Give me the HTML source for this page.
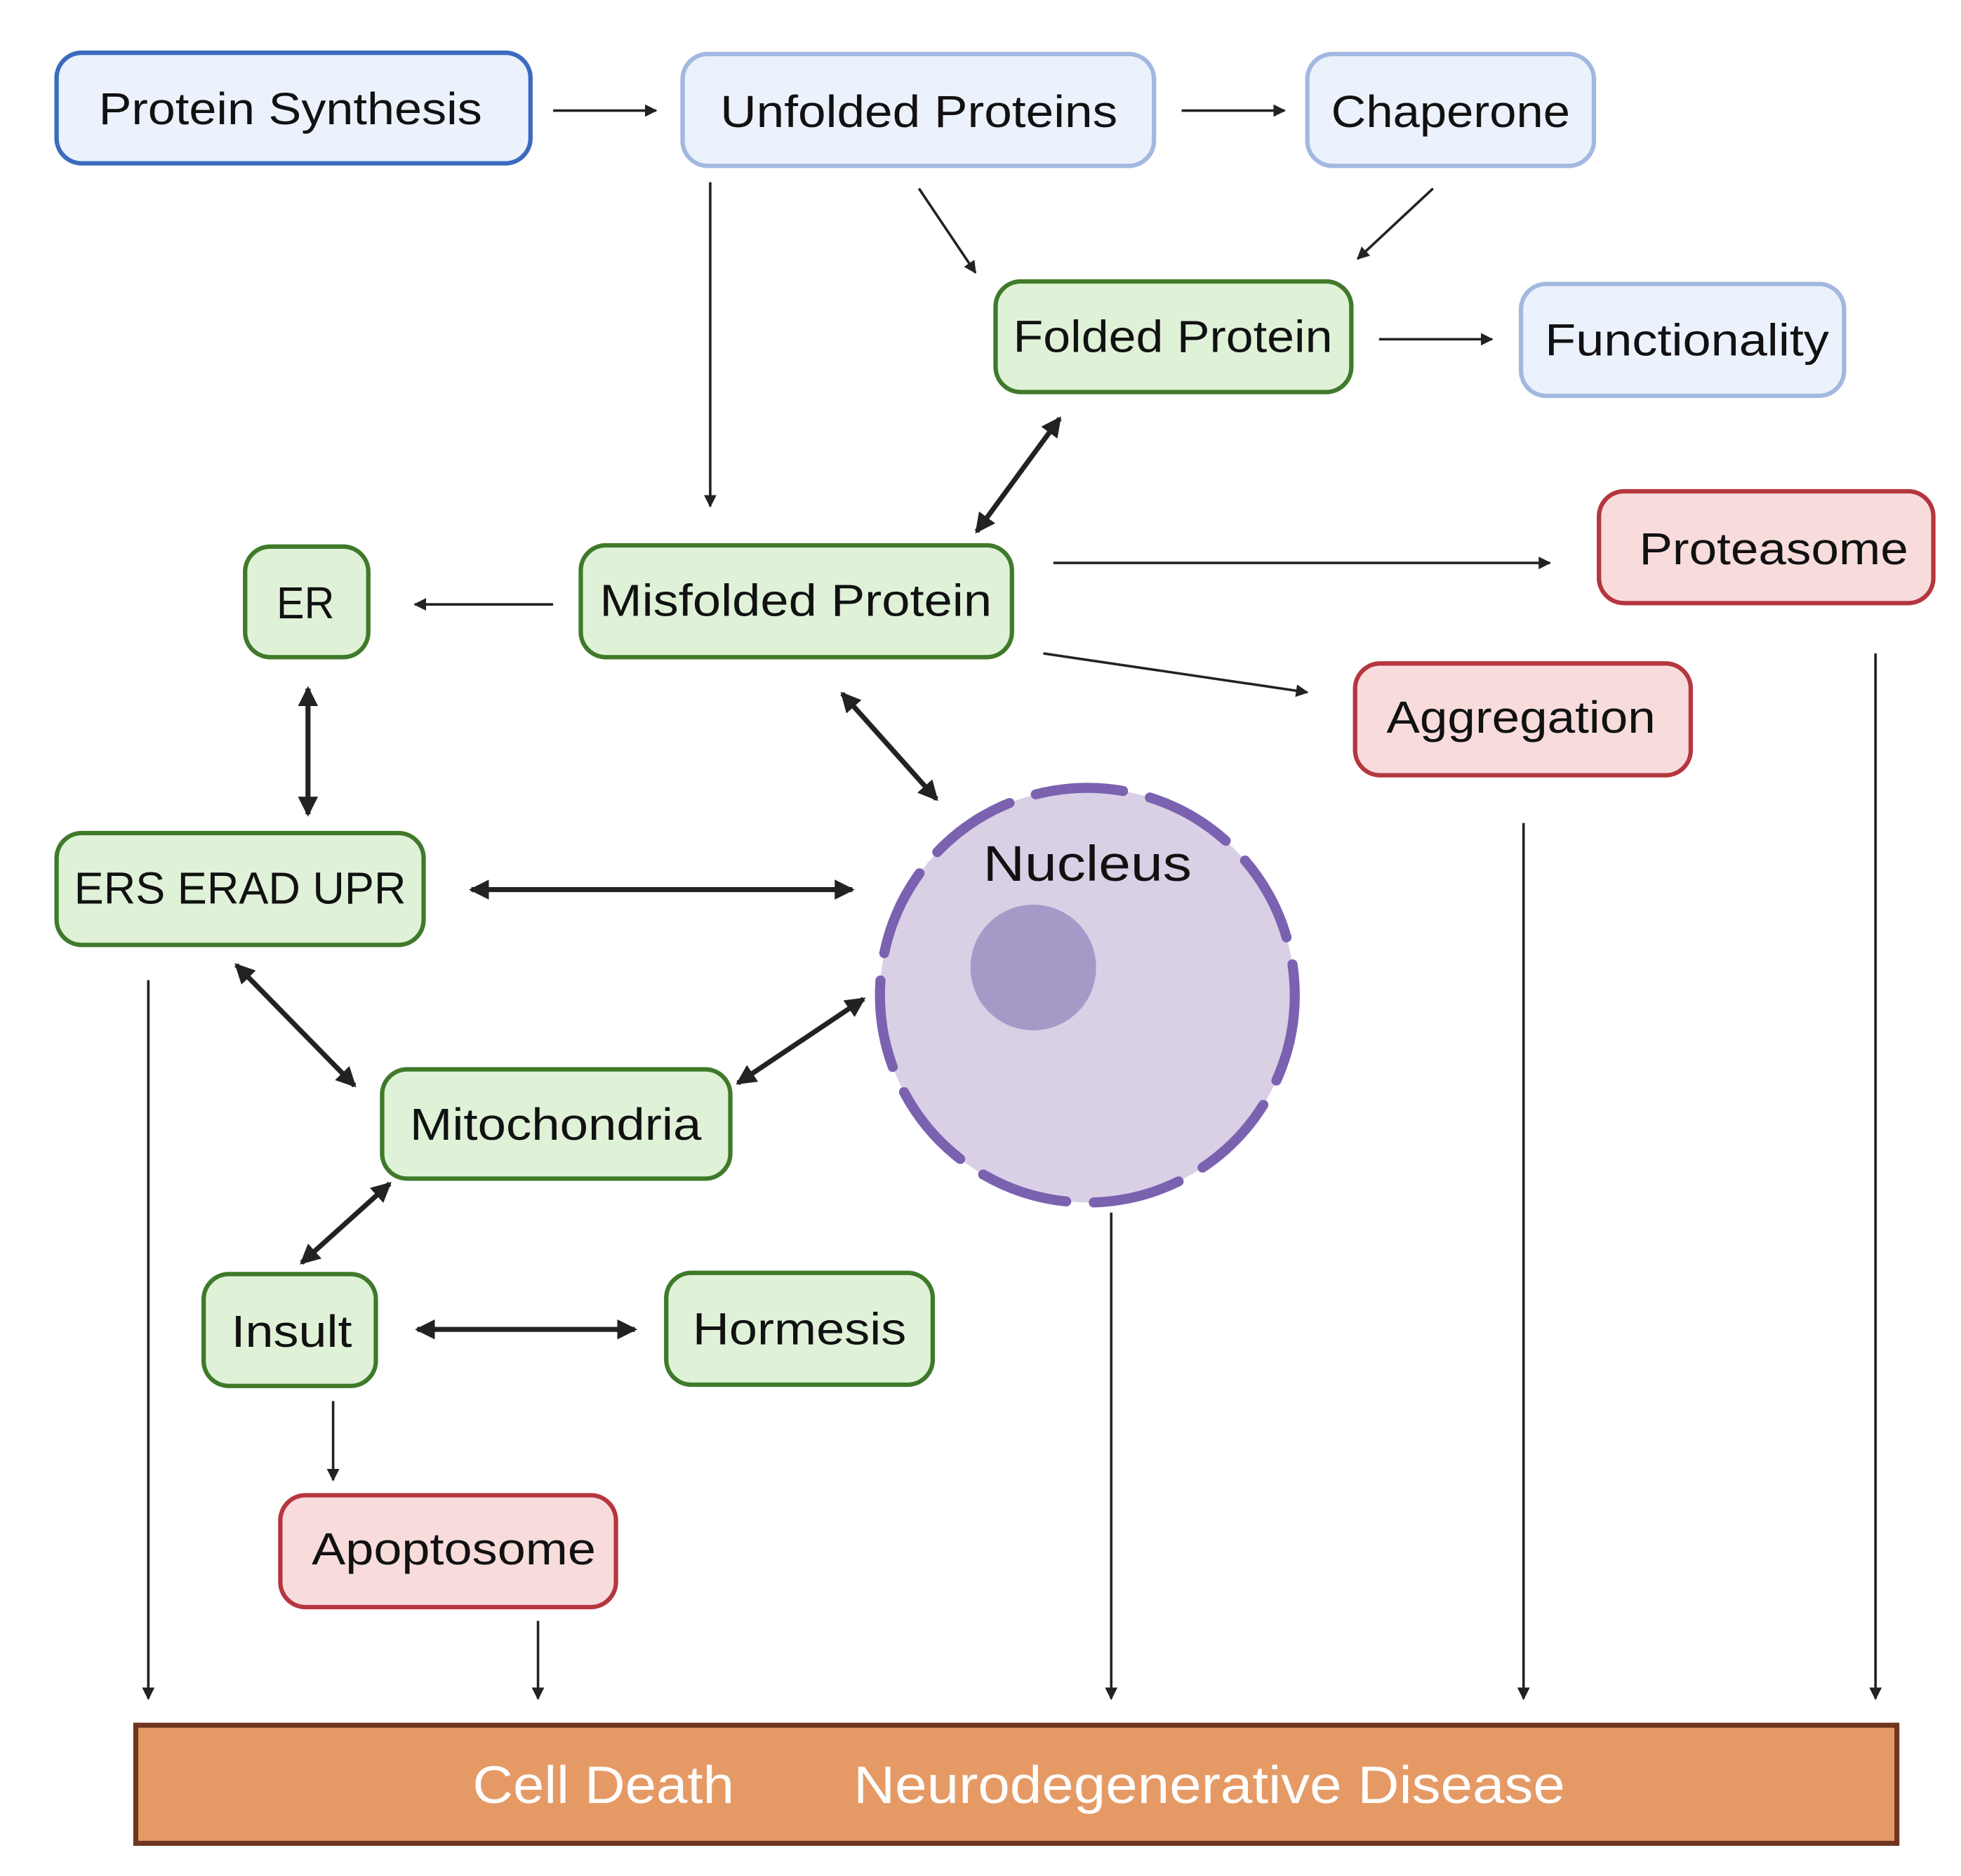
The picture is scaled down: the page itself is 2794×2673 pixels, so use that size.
<!DOCTYPE html>
<html><head><meta charset="utf-8"><style>
html,body{margin:0;padding:0;background:#fff;}
svg{display:block;}
text{font-family:"Liberation Sans",sans-serif;}
</style></head><body>
<svg width="2794" height="2673" viewBox="0 0 1560 1493" preserveAspectRatio="none" xmlns="http://www.w3.org/2000/svg">
<defs>
<marker id="a" markerWidth="10" markerHeight="10" refX="9" refY="5" orient="auto" markerUnits="userSpaceOnUse"><path d="M0,0 L10,5 L0,10 Z" fill="#222"/></marker>
<marker id="b" markerWidth="16" markerHeight="16" refX="14" refY="8" orient="auto-start-reverse" markerUnits="userSpaceOnUse"><path d="M0,0 L16,8 L0,16 Z" fill="#222"/></marker>
</defs>
<rect width="1560" height="1493" fill="#fff"/>
<g stroke-width="3.5">
<rect x="45" y="42" width="377" height="88" rx="20" fill="#ebf2fc" stroke="#3a6bbf"/>
<rect x="543" y="43" width="375" height="89" rx="20" fill="#ebf2fc" stroke="#a3b8e0"/>
<rect x="1040" y="43" width="228" height="89" rx="20" fill="#ebf2fc" stroke="#a3b8e0"/>
<rect x="1210" y="226" width="257" height="89" rx="20" fill="#ebf2fc" stroke="#a3b8e0"/>
<rect x="792" y="224" width="283" height="88" rx="20" fill="#dff2d8" stroke="#3f7a2a"/>
<rect x="195" y="435" width="98" height="88" rx="20" fill="#dff2d8" stroke="#3f7a2a"/>
<rect x="462" y="434" width="343" height="89" rx="20" fill="#dff2d8" stroke="#3f7a2a"/>
<rect x="45" y="663" width="292" height="89" rx="20" fill="#dff2d8" stroke="#3f7a2a"/>
<rect x="304" y="851" width="277" height="87" rx="20" fill="#dff2d8" stroke="#3f7a2a"/>
<rect x="162" y="1014" width="137" height="89" rx="20" fill="#dff2d8" stroke="#3f7a2a"/>
<rect x="530" y="1013" width="212" height="89" rx="20" fill="#dff2d8" stroke="#3f7a2a"/>
<rect x="1272" y="391" width="266" height="89" rx="20" fill="#f8dcdc" stroke="#b5363f"/>
<rect x="1078" y="528" width="267" height="89" rx="20" fill="#f8dcdc" stroke="#b5363f"/>
<rect x="223" y="1190" width="267" height="89" rx="20" fill="#f8dcdc" stroke="#b5363f"/>
</g>
<rect x="108" y="1373" width="1401" height="94" fill="#e59a65" stroke="#6e3520" stroke-width="4"/>
<circle cx="865" cy="792" r="165" fill="#d9d0e6" stroke="#7a62b0" stroke-width="8" stroke-dasharray="70 22" stroke-linecap="round"/>
<circle cx="822" cy="770" r="50" fill="#a599c8"/>
<g font-size="36" fill="#111" text-anchor="middle">
<text x="231" y="99" textLength="305" lengthAdjust="spacingAndGlyphs">Protein Synthesis</text>
<text x="731" y="101" textLength="316" lengthAdjust="spacingAndGlyphs">Unfolded Proteins</text>
<text x="1154" y="101" textLength="190" lengthAdjust="spacingAndGlyphs">Chaperone</text>
<text x="933" y="280" textLength="254" lengthAdjust="spacingAndGlyphs">Folded Protein</text>
<text x="1342" y="283" textLength="226" lengthAdjust="spacingAndGlyphs">Functionality</text>
<text x="1411" y="449" textLength="214" lengthAdjust="spacingAndGlyphs">Proteasome</text>
<text x="243" y="492" textLength="46" lengthAdjust="spacingAndGlyphs">ER</text>
<text x="633" y="490" textLength="312" lengthAdjust="spacingAndGlyphs">Misfolded Protein</text>
<text x="1210" y="583" textLength="214" lengthAdjust="spacingAndGlyphs">Aggregation</text>
<text x="191" y="719" textLength="264" lengthAdjust="spacingAndGlyphs">ERS ERAD UPR</text>
<text x="442" y="907" textLength="232" lengthAdjust="spacingAndGlyphs">Mitochondria</text>
<text x="232" y="1072" textLength="96" lengthAdjust="spacingAndGlyphs">Insult</text>
<text x="636" y="1070" textLength="170" lengthAdjust="spacingAndGlyphs">Hormesis</text>
<text x="361" y="1245" textLength="226" lengthAdjust="spacingAndGlyphs">Apoptosome</text>
<text x="865" y="701" font-size="40" textLength="166" lengthAdjust="spacingAndGlyphs">Nucleus</text>
<text x="480" y="1435" font-size="42" fill="#fff" textLength="208" lengthAdjust="spacingAndGlyphs">Cell Death</text>
<text x="962" y="1435" font-size="42" fill="#fff" textLength="566" lengthAdjust="spacingAndGlyphs">Neurodegenerative Disease</text>
</g>
<g stroke="#222" stroke-width="2" marker-end="url(#a)">
<line x1="440" y1="88" x2="522" y2="88"/>
<line x1="940" y1="88" x2="1022" y2="88"/>
<line x1="565" y1="145" x2="565" y2="403"/>
<line x1="731" y1="150" x2="776" y2="217"/>
<line x1="1140" y1="150" x2="1080" y2="206"/>
<line x1="1097" y1="270" x2="1187" y2="270"/>
<line x1="838" y1="448" x2="1233" y2="448"/>
<line x1="440" y1="481" x2="330" y2="481"/>
<line x1="830" y1="520" x2="1040" y2="551"/>
<line x1="265" y1="1115" x2="265" y2="1178"/>
<line x1="118" y1="780" x2="118" y2="1352"/>
<line x1="428" y1="1290" x2="428" y2="1352"/>
<line x1="884" y1="965" x2="884" y2="1352"/>
<line x1="1212" y1="655" x2="1212" y2="1352"/>
<line x1="1492" y1="520" x2="1492" y2="1352"/>
</g>
<g stroke="#222" stroke-width="4" marker-start="url(#b)" marker-end="url(#b)">
<line x1="777" y1="423" x2="843" y2="333"/>
<line x1="245" y1="548" x2="245" y2="648"/>
<line x1="670" y1="552" x2="745" y2="636"/>
<line x1="375" y1="708" x2="678" y2="708"/>
<line x1="188" y1="768" x2="282" y2="864"/>
<line x1="587" y1="862" x2="687" y2="795"/>
<line x1="240" y1="1005" x2="310" y2="942"/>
<line x1="332" y1="1058" x2="505" y2="1058"/>
</g>
</svg>
</body></html>
